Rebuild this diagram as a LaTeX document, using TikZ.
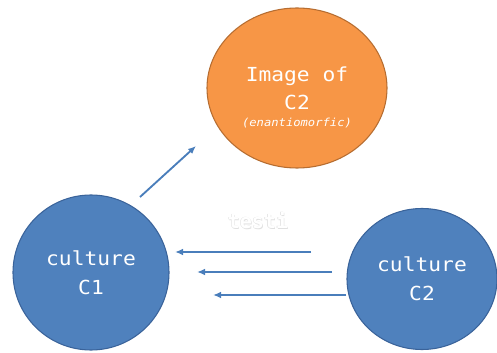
\documentclass[tikz,border=0pt]{standalone}
\usepackage{fontspec}
\setmonofont{DejaVu Sans Mono}
\newfontfamily\cons[FakeStretch=1.1]{DejaVu Sans Mono}
\usetikzlibrary{shapes.geometric,arrows.meta}
\definecolor{orfill}{HTML}{F79646}
\definecolor{ordraw}{HTML}{B66D31}
\definecolor{blfill}{HTML}{4F81BD}
\definecolor{bldraw}{HTML}{3A639A}
\definecolor{arr}{HTML}{4A7EBB}
\tikzset{
  blob/.style={ellipse, inner sep=0pt, line width=0.8pt},
  bluec/.style={blob, fill=blfill, draw=bldraw, text=white, align=center,
    font=\cons\fontsize{14.5}{21.5}\selectfont},
  oranc/.style={blob, fill=orfill, draw=ordraw},
  lbl/.style={text=white, align=center, inner sep=0pt},
  conn/.style={draw=arr, line width=1.4pt, -{Latex[length=6pt,width=5pt]}},
  ghost/.style={inner sep=0pt, font=\ttfamily\bfseries\fontsize{15}{15}\selectfont}
}
\begin{document}
\begin{tikzpicture}[x=0.75pt,y=-0.75pt]
\useasboundingbox (0,0) rectangle (497,353);
\node[oranc, minimum width=180*0.75pt, minimum height=160*0.75pt] (img) at (297,88) {};
\node[lbl, font=\cons\fontsize{14.5}{21}\selectfont] (imgtxt) at (297,88)
  {Image of\\C2};
\node[lbl, font=\cons\itshape\fontsize{8.3}{10}\selectfont] (enan) at (297,123) {(enantiomorfic)};
\node[bluec, minimum width=156*0.75pt, minimum height=155*0.75pt] (c1) at (91,272.5) {culture\\C1};
\node[bluec, minimum width=150*0.75pt, minimum height=141*0.75pt] (c2) at (422,279) {culture\\C2};
\node[ghost, text=black!12] (tg1) at (258.6,221.6) {testi};
\node[ghost, text=black!12] (tg2) at (257.4,220.4) {testi};
\node[ghost, text=white] (testi) at (258,221) {testi};
\coordinate (d0) at (140,197);
\coordinate (d1) at (196,146);
\draw[conn] (d0) -- (d1);
\coordinate (a0) at (311,252);
\coordinate (a1) at (175,252);
\coordinate (b0) at (332,272);
\coordinate (b1) at (197,272);
\coordinate (e1) at (213,295);
\draw[conn] (a0) -- (a1);
\draw[conn] (b0) -- (b1);
\draw[conn] (c2.west |- e1) -- (e1);
\end{tikzpicture}
\end{document}
